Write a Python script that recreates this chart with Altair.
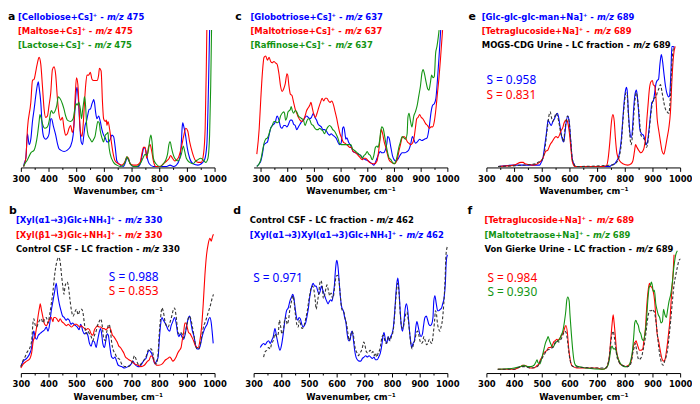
import altair as alt
import pandas as pd

BLUE = "#0000ff"
RED = "#ff0000"
GREEN = "#139413"
BLACK = "#000000"
DASH = "#333333"

# ---------------- spectra (wavenumber cm-1, relative intensity) ----------------
A_CELLOBIOSE = [(310,0),(312,2),(318,6),(324,24),(330,16),(336,20),(342,33),(348,42),(354,52),(360,60),(363,62),(366,58),(372,47),(378,27),(384,21),(390,20),(396,21),(402,24),(408,35),(411,35),(417,30),(426,23),(432,17),(438,13),(444,12),(456,11),(468,12),(480,15),(489,23),(495,40),(500,55),(503,58),(508,49),(513,30),(518,18),(523,16),(527,22),(532,30),(537,33),(542,38),(547,42),(551,42),(557,46),(561,48),(563,49),(566,47),(570,40),(575,35),(581,37),(587,33),(593,27),(599,23),(605,21),(611,18),(617,18),(623,20),(629,23),(635,22),(641,14),(647,4),(659,1),(671,0),(678,3),(683,6),(689,5),(695,2),(707,0),(725,0),(733,3),(739,9),(745,14),(751,12),(757,6),(764,2),(779,0),(815,0),(827,0),(839,1),(851,0),(862,1),(874,6),(880,18),(883,29),(885,32),(888,30),(895,23),(901,14),(910,6),(922,2),(940,1),(952,2),(964,5),(972,16),(978,59),(982,100)]
A_MALTOSE = [(310,0),(318,6),(324,28),(336,47),(342,63),(348,64),(356,72),(360,76),(366,80),(372,75),(378,59),(384,42),(390,36),(396,37),(402,45),(408,54),(414,71),(420,73),(426,67),(432,50),(438,38),(444,34),(450,36),(456,28),(462,23),(468,24),(474,28),(480,30),(486,25),(491,29),(497,54),(501,65),(506,60),(511,40),(515,26),(521,22),(525,30),(530,47),(534,59),(539,67),(545,67),(551,69),(557,64),(563,63),(569,63),(575,63),(581,67),(584,72),(590,70),(595,47),(599,35),(605,33),(609,34),(611,30),(615,33),(621,27),(627,18),(633,10),(641,4),(653,2),(665,1),(677,4),(683,7),(689,6),(695,2),(707,1),(719,1),(731,3),(737,9),(743,14),(749,14),(755,6),(761,14),(767,16),(773,11),(779,4),(788,0),(803,0),(815,2),(827,4),(836,6),(841,8),(848,6),(856,4),(868,6),(880,14),(888,22),(896,28),(903,26),(910,18),(920,10),(929,5),(940,3),(952,3),(960,9),(966,28),(970,71),(972,100)]
A_LACTOSE = [(310,0),(312,1),(324,5),(336,10),(348,12),(354,16),(360,23),(366,33),(369,38),(374,35),(380,30),(386,28),(396,29),(402,33),(408,40),(411,41),(416,39),(422,40),(430,45),(435,51),(441,50),(450,46),(456,42),(462,37),(468,34),(480,33),(489,35),(495,42),(500,46),(503,45),(509,47),(515,42),(519,35),(523,41),(527,47),(530,51),(533,47),(538,30),(543,23),(551,20),(557,18),(563,20),(568,22),(573,28),(578,33),(583,32),(587,26),(593,21),(599,18),(605,23),(611,24),(615,25),(617,18),(623,9),(635,3),(647,1),(659,0),(671,1),(678,4),(683,7),(689,5),(695,2),(707,0),(719,0),(731,2),(741,6),(749,9),(755,8),(761,12),(766,20),(770,23),(774,18),(779,6),(788,2),(803,0),(815,2),(824,5),(830,9),(835,16),(838,18),(840,18),(844,14),(850,9),(856,6),(868,4),(880,9),(887,15),(892,11),(898,6),(910,3),(922,2),(932,4),(940,5),(949,6),(958,5),(968,3),(976,6),(982,23),(986,59),(989,100)]

C_GLOBOTRIOSE = [(285,0),(294,2),(300,4),(306,9),(312,16),(318,17),(325,18),(331,23),(337,28),(343,30),(349,31),(355,33),(361,37),(368,34),(374,29),(380,28),(386,30),(392,30),(398,29),(404,31),(411,34),(417,34),(423,31),(429,30),(435,27),(441,29),(447,31),(454,33),(460,34),(466,36),(472,37),(478,36),(484,35),(490,36),(497,39),(503,36),(509,34),(515,31),(521,30),(527,29),(533,27),(539,27),(546,26),(552,24),(558,23),(564,24),(570,23),(576,22),(582,21),(589,18),(595,16),(601,17),(605,23),(607,28),(611,29),(616,24),(619,20),(623,21),(629,18),(638,15),(646,11),(656,10),(666,9),(675,8),(683,6),(693,5),(703,4),(711,3),(718,2),(724,1),(730,3),(736,6),(742,9),(748,11),(754,10),(760,10),(767,12),(773,17),(776,22),(781,21),(788,14),(794,8),(800,5),(806,4),(813,5),(822,8),(830,10),(840,10),(849,11),(855,12),(862,16),(869,22),(874,20),(880,17),(887,18),(896,20),(904,19),(914,20),(924,21),(932,29),(939,40),(945,45),(951,46),(957,50),(963,64),(969,81),(975,100)]
C_MALTOTRIOSE = [(285,9),(294,28),(300,50),(306,69),(312,80),(318,81),(325,78),(331,80),(337,77),(343,76),(349,77),(355,76),(361,75),(368,68),(374,59),(380,55),(386,57),(392,61),(398,68),(401,67),(405,60),(411,53),(417,52),(423,47),(429,42),(435,39),(441,36),(447,34),(454,33),(460,34),(466,37),(472,41),(478,43),(484,45),(488,47),(493,43),(499,38),(505,36),(511,39),(517,43),(524,47),(530,50),(536,48),(542,50),(548,50),(554,48),(560,47),(566,48),(573,45),(579,40),(585,35),(591,29),(597,24),(603,21),(609,18),(616,17),(622,16),(628,15),(634,14),(640,14),(646,11),(656,10),(666,8),(675,6),(681,5),(687,6),(693,6),(699,5),(708,3),(718,2),(727,2),(736,4),(742,11),(748,21),(752,27),(757,24),(763,18),(769,14),(775,9),(781,5),(791,3),(800,2),(807,3),(813,6),(818,11),(824,16),(830,21),(837,22),(843,21),(850,18),(856,17),(862,16),(869,17),(875,21),(880,28),(885,35),(890,36),(896,38),(902,36),(908,35),(914,33),(920,31),(926,30),(932,28),(939,29),(945,29),(951,33),(957,42),(963,54),(969,66),(975,81),(982,100)]
C_RAFFINOSE = [(285,0),(294,2),(300,5),(306,11),(312,17),(318,20),(325,21),(331,24),(337,28),(343,30),(349,33),(355,33),(361,32),(368,33),(374,37),(380,39),(386,40),(389,39),(393,34),(398,36),(402,40),(407,41),(411,42),(414,44),(418,41),(423,39),(429,41),(435,40),(441,37),(447,36),(454,35),(460,34),(466,30),(472,33),(478,35),(484,34),(490,31),(497,30),(503,28),(509,27),(515,27),(521,28),(527,27),(533,26),(539,24),(546,27),(552,29),(558,30),(564,29),(570,27),(576,26),(582,24),(589,21),(595,17),(601,16),(607,16),(613,16),(619,16),(626,16),(632,16),(638,16),(644,13),(650,12),(656,11),(662,10),(668,9),(675,8),(681,6),(687,8),(693,9),(699,11),(705,9),(711,8),(718,5),(724,8),(730,14),(736,15),(740,14),(745,18),(750,26),(754,29),(759,28),(764,23),(770,16),(776,10),(782,6),(788,5),(794,3),(801,2),(807,4),(813,9),(818,14),(824,18),(830,22),(837,21),(843,20),(849,24),(852,36),(856,39),(861,34),(867,29),(874,37),(880,40),(887,45),(893,52),(899,59),(905,69),(909,71),(914,68),(920,62),(926,57),(931,56),(936,61),(941,67),(946,65),(951,66),(956,83),(961,88),(966,95),(969,100)]

E_GLCMAN = [(342,0),(400,1),(450,1),(492,1),(498,3),(504,6),(510,14),(516,23),(522,33),(523,34),(528,32),(534,30),(540,33),(546,35),(552,38),(557,39),(561,36),(567,28),(573,21),(579,18),(583,23),(588,32),(594,37),(599,33),(605,18),(610,6),(616,2),(622,0),(700,0),(746,0),(752,1),(764,2),(770,4),(776,6),(782,11),(788,21),(793,35),(799,50),(804,57),(806,58),(809,55),(813,40),(818,26),(823,21),(828,28),(832,42),(837,53),(842,56),(845,52),(850,40),(854,28),(860,24),(867,23),(874,19),(878,16),(882,18),(888,28),(894,40),(898,47),(903,48),(908,54),(913,61),(917,63),(922,64),(927,75),(932,82),(936,78),(941,69),(947,59),(953,53),(959,51),(962,52),(967,71),(970,88),(976,88),(979,86)]
E_TETRAGLUCOSIDE = [(342,0),(400,1),(425,3),(433,3),(439,2),(469,1),(492,3),(504,6),(514,11),(522,12),(530,16),(537,18),(546,21),(552,22),(558,21),(564,23),(569,26),(575,28),(581,32),(587,34),(590,34),(593,33),(599,26),(605,14),(610,4),(620,0),(723,0),(735,1),(740,6),(746,18),(752,33),(757,38),(762,33),(766,21),(772,9),(782,4),(793,2),(811,1),(823,2),(829,4),(835,11),(839,16),(844,14),(853,11),(858,10),(864,11),(870,14),(876,23),(880,35),(884,45),(889,57),(894,62),(900,63),(903,60),(908,59),(912,52),(917,35),(923,26),(929,18),(935,11),(941,9),(947,14),(953,21),(959,28),(965,40),(970,62),(976,81),(982,88)]
E_MOGS_URINE = [(342,0),(480,2),(486,3),(498,4),(510,11),(519,26),(528,39),(531,40),(534,37),(540,33),(546,36),(552,39),(558,36),(564,30),(569,24),(575,21),(579,18),(583,26),(588,33),(593,37),(599,33),(605,18),(610,6),(616,2),(622,0),(752,1),(770,3),(782,9),(788,18),(793,33),(799,47),(804,54),(809,52),(813,38),(819,21),(823,16),(829,26),(834,42),(839,52),(842,54),(847,48),(853,35),(858,23),(867,21),(874,18),(878,14),(882,16),(888,26),(894,38),(900,47),(906,50),(913,51),(917,54),(923,57),(929,60),(935,54),(941,47),(947,42),(953,40),(959,39),(965,52),(969,71),(974,85),(979,88)]

B_XYL_A13 = [(300,4),(309,8),(321,10),(333,14),(339,18),(345,29),(347,30),(351,26),(357,24),(363,27),(368,28),(374,29),(380,30),(386,31),(392,33),(398,30),(404,35),(410,45),(416,52),(422,59),(428,65),(433,57),(439,50),(445,45),(451,41),(457,40),(463,38),(469,39),(475,38),(481,35),(487,36),(492,35),(498,34),(504,33),(510,31),(516,35),(519,34),(524,30),(530,28),(536,29),(542,27),(548,21),(554,19),(560,23),(566,22),(572,18),(577,23),(583,29),(588,32),(592,28),(596,21),(602,18),(607,23),(612,28),(616,27),(622,18),(628,11),(634,10),(640,11),(646,8),(652,5),(664,4),(675,3),(687,4),(699,6),(705,8),(711,6),(723,4),(729,4),(734,5),(746,9),(752,10),(758,14),(764,16),(768,15),(772,14),(778,10),(784,6),(790,8),(796,11),(800,23),(805,35),(810,40),(815,38),(821,36),(826,34),(832,31),(838,30),(843,34),(849,37),(855,40),(861,36),(867,28),(871,26),(876,28),(882,26),(888,24),(894,28),(900,35),(906,40),(910,41),(914,37),(920,30),(926,26),(931,20),(937,17),(943,17),(949,20),(955,26),(961,30),(967,33),(973,35),(979,39),(983,40),(988,36),(992,28),(995,21)]
B_XYL_B13 = [(300,3),(309,6),(321,8),(333,10),(339,14),(345,23),(351,26),(357,33),(363,42),(368,48),(370,50),(374,46),(380,40),(386,35),(392,34),(398,36),(404,39),(410,40),(416,37),(419,40),(424,40),(430,39),(436,37),(442,39),(448,37),(454,36),(459,35),(465,34),(471,35),(477,34),(483,33),(489,34),(495,35),(501,35),(507,34),(513,33),(518,34),(524,33),(530,32),(536,31),(542,32),(548,31),(554,28),(560,27),(566,31),(572,33),(577,34),(583,33),(589,33),(595,32),(601,32),(607,31),(613,32),(619,33),(625,31),(631,27),(636,26),(642,24),(648,22),(654,19),(660,18),(666,16),(672,14),(678,11),(684,10),(690,9),(699,8),(711,6),(723,5),(734,4),(746,5),(758,8),(764,9),(770,12),(776,11),(781,8),(791,5),(799,5),(811,6),(823,9),(831,10),(838,11),(843,10),(849,8),(855,9),(861,11),(867,14),(873,16),(879,18),(883,23),(888,29),(893,36),(896,36),(901,33),(906,29),(912,28),(917,26),(924,23),(929,20),(935,18),(941,18),(947,23),(953,33),(959,50),(965,71),(971,86),(977,94),(983,98),(988,96),(992,99),(996,101)]
B_CONTROL_CSF = [(300,4),(309,9),(315,11),(321,14),(327,16),(333,18),(339,23),(345,38),(347,39),(351,35),(357,33),(363,36),(368,38),(374,39),(380,36),(386,39),(392,40),(398,36),(404,42),(410,50),(416,59),(422,71),(427,78),(433,83),(437,84),(442,81),(447,71),(451,64),(456,57),(459,62),(463,65),(467,66),(471,64),(477,54),(483,45),(489,41),(495,44),(501,46),(507,42),(513,45),(518,46),(520,46),(524,44),(530,35),(536,28),(542,30),(548,28),(554,26),(560,23),(566,27),(572,30),(577,34),(583,37),(589,39),(594,34),(599,25),(605,23),(609,28),(614,33),(619,35),(624,30),(628,22),(634,16),(640,14),(646,11),(652,10),(658,9),(664,6),(669,5),(675,4),(687,4),(699,6),(705,9),(711,12),(717,9),(723,6),(729,5),(734,6),(746,9),(752,11),(758,15),(764,17),(770,17),(776,15),(781,9),(790,6),(796,14),(800,28),(805,40),(810,47),(815,44),(821,37),(826,34),(832,33),(838,36),(844,40),(850,45),(855,47),(861,41),(867,30),(871,28),(876,29),(882,28),(888,25),(894,29),(900,35),(906,40),(909,41),(914,39),(920,33),(926,26),(931,20),(937,17),(943,17),(949,21),(955,28),(961,34),(967,37),(973,41),(979,45),(985,49),(991,54),(996,57)]

D_CONTROL_CSF = [(336,11),(342,15),(348,16),(354,18),(360,17),(365,21),(371,23),(377,28),(383,26),(389,28),(393,38),(398,33),(402,28),(407,30),(412,38),(417,40),(421,35),(426,38),(431,46),(437,52),(442,56),(446,52),(451,42),(456,35),(461,33),(465,38),(470,35),(475,32),(480,33),(485,36),(489,40),(494,45),(499,52),(504,58),(508,62),(513,63),(518,60),(523,52),(526,46),(531,52),(536,59),(539,65),(543,67),(548,63),(552,54),(557,57),(562,62),(565,64),(570,60),(575,56),(580,58),(585,54),(588,55),(593,63),(598,70),(602,71),(607,69),(612,59),(617,48),(621,45),(626,44),(631,39),(636,35),(641,28),(645,23),(650,26),(655,30),(660,28),(664,21),(669,16),(674,14),(679,12),(683,14),(688,15),(693,18),(698,22),(702,20),(707,15),(712,14),(717,15),(721,16),(726,14),(731,15),(736,12),(740,14),(745,11),(750,14),(755,16),(760,21),(764,26),(769,27),(774,23),(779,21),(783,23),(788,26),(793,23),(798,26),(802,28),(807,35),(812,49),(817,61),(820,65),(825,59),(830,42),(835,33),(840,32),(844,36),(849,42),(854,44),(859,38),(864,28),(868,21),(873,17),(877,20),(882,23),(887,28),(892,30),(896,28),(901,23),(906,21),(911,22),(915,26),(920,23),(925,20),(929,21),(935,24),(939,22),(944,21),(949,28),(954,38),(957,45),(961,42),(964,36),(968,32),(973,30),(977,33),(982,38),(987,50),(992,69),(995,86),(1000,92)]
D_XYLXYL = [(324,18),(330,20),(336,21),(342,20),(348,22),(354,23),(360,21),(365,23),(371,26),(377,32),(383,26),(389,20),(395,16),(401,20),(407,28),(413,38),(419,45),(425,47),(431,52),(437,55),(441,57),(445,55),(450,47),(455,40),(460,38),(464,40),(469,39),(474,35),(479,33),(483,34),(488,36),(493,41),(498,47),(502,54),(507,60),(512,64),(515,65),(521,63),(526,63),(531,60),(536,57),(540,59),(545,63),(550,60),(555,57),(560,54),(564,52),(569,50),(574,52),(579,53),(583,52),(588,57),(592,64),(595,73),(599,81),(601,82),(605,77),(610,64),(614,54),(619,47),(624,45),(629,40),(633,37),(638,28),(643,23),(648,23),(652,28),(656,30),(661,23),(665,16),(670,11),(675,9),(681,8),(687,8),(693,10),(699,11),(705,12),(711,11),(717,12),(723,11),(729,10),(735,11),(740,9),(746,9),(752,11),(758,14),(764,21),(767,26),(771,29),(776,24),(781,21),(786,26),(790,23),(795,26),(800,28),(805,33),(810,45),(814,57),(818,66),(821,69),(824,64),(829,47),(833,35),(838,30),(843,37),(848,47),(852,50),(857,45),(862,33),(867,23),(871,18),(876,21),(881,23),(886,33),(890,37),(895,33),(900,28),(905,26),(910,28),(914,34),(919,40),(924,41),(929,38),(933,35),(938,34),(943,35),(948,40),(951,52),(955,56),(960,50),(965,45),(969,45),(974,46),(979,47),(983,50),(988,54),(993,66),(996,81),(1000,86)]

F_TETRAGLUCOSIDE = [(341,2),(400,2),(413,3),(424,4),(430,5),(436,5),(448,4),(460,3),(472,3),(484,5),(490,6),(495,9),(501,11),(507,14),(513,15),(519,16),(525,18),(531,18),(537,19),(543,22),(549,23),(555,24),(559,23),(562,24),(566,25),(572,27),(578,29),(584,33),(586,34),(588,34),(593,28),(597,18),(602,10),(608,5),(614,4),(626,3),(700,3),(720,2),(732,3),(738,5),(744,11),(749,23),(754,35),(758,42),(761,37),(766,26),(770,16),(776,10),(783,6),(791,5),(803,4),(813,5),(819,6),(825,10),(829,16),(834,21),(838,22),(841,23),(844,21),(849,18),(853,16),(859,16),(865,17),(869,23),(875,33),(879,47),(884,59),(889,65),(893,63),(898,62),(903,59),(908,52),(913,38),(917,28),(922,23),(928,16),(934,10),(940,8),(945,9),(951,16),(957,26),(963,38),(969,57),(975,74),(978,86)]
F_MALTOTETRAOSE = [(341,2),(401,3),(424,4),(436,5),(448,4),(460,4),(472,5),(478,7),(483,9),(486,7),(493,6),(501,11),(507,16),(513,21),(519,24),(523,26),(528,23),(534,20),(540,18),(546,20),(552,22),(559,23),(564,24),(570,27),(576,30),(582,37),(587,45),(590,52),(594,55),(599,52),(602,42),(607,28),(612,16),(616,9),(622,5),(632,4),(661,3),(720,2),(732,3),(739,5),(744,9),(749,16),(754,19),(759,17),(764,17),(768,16),(774,11),(780,8),(789,5),(798,4),(810,4),(816,5),(822,9),(828,16),(833,28),(836,36),(840,38),(844,36),(849,34),(853,30),(858,28),(863,24),(868,23),(873,28),(878,37),(883,52),(888,62),(893,64),(896,66),(900,63),(903,59),(907,60),(912,50),(916,46),(921,42),(926,40),(931,36),(936,37),(940,46),(945,42),(950,40),(955,46),(960,52),(966,57),(972,66),(978,78),(984,86),(990,89)]
F_VONGIERKE = [(341,2),(400,2),(424,4),(436,4),(460,3),(484,4),(495,8),(507,12),(519,16),(531,17),(543,19),(549,22),(555,23),(561,22),(566,23),(572,25),(578,28),(583,30),(588,29),(593,23),(597,16),(602,9),(608,5),(614,4),(700,3),(732,3),(739,6),(744,11),(749,21),(754,28),(758,30),(762,26),(767,18),(772,11),(780,7),(791,5),(810,4),(819,5),(825,9),(829,14),(834,18),(838,21),(842,17),(847,11),(852,9),(857,10),(862,12),(866,16),(871,21),(876,28),(880,35),(885,42),(890,45),(896,45),(899,46),(903,45),(907,44),(910,41),(915,33),(920,23),(924,16),(929,10),(934,6),(939,5),(944,8),(949,11),(955,17),(960,26),(966,38),(972,52),(978,64),(984,71),(990,77),(996,82),(1001,83)]

# ---------------- texts ----------------
TICK_VALUES = list(range(300, 1001, 50))
AXIS_TITLE = "Wavenumber, cm\u207b\u00b9"
MZ = "m/z"

LEG_A = [("[Cellobiose+Cs]\u207a - ", "475", BLUE), ("[Maltose+Cs]\u207a - ", "475", RED), ("[Lactose+Cs]\u207a - ", "475", GREEN)]
LEG_C = [("[Globotriose+Cs]\u207a - ", "637", BLUE), ("[Maltotriose+Cs]\u207a - ", "637", RED), ("[Raffinose+Cs]\u207a - ", "637", GREEN)]
LEG_E = [("[Glc-glc-glc-man+Na]\u207a - ", "689", BLUE), ("[Tetraglucoside+Na]\u207a - ", "689", RED), ("MOGS-CDG Urine - LC fraction - ", "689", BLACK)]
LEG_B = [("[Xyl(\u03b11\u21923)Glc+NH\u2084]\u207a - ", "330", BLUE), ("[Xyl(\u03b21\u21923)Glc+NH\u2084]\u207a - ", "330", RED), ("Control CSF - LC fraction - ", "330", BLACK)]
LEG_D = [("Control CSF - LC fraction - ", "462", BLACK), ("[Xyl(\u03b11\u21923)Xyl(\u03b11\u21923)Glc+NH\u2084]\u207a - ", "462", BLUE)]
LEG_F = [("[Tetraglucoside+Na]\u207a - ", "689", RED), ("[Maltotetraose+Na]\u207a - ", "689", GREEN), ("Von Gierke Urine - LC fraction - ", "689", BLACK)]

S_E = [("S = 0.958", BLUE), ("S = 0.831", RED)]
S_B = [("S = 0.988", BLUE), ("S = 0.853", RED)]
S_D = [("S = 0.971", BLUE)]
S_F = [("S = 0.984", RED), ("S = 0.930", GREEN)]

# ---------------- layout / typography ----------------
W, H = 196, 150
YDOM = [-0.72, 108]
COND = "DejaVu Sans Condensed"
LEG_FS = 9.5

STYLES = {
    "bold": dict(font=COND, fontSize=LEG_FS, fontWeight="bold", baseline="middle"),
    "ital": dict(font=COND, fontSize=LEG_FS, fontWeight="bold", fontStyle="italic", baseline="middle"),
    "s": dict(font="Noto Sans", fontSize=12, fontWeight="normal", baseline="middle"),
    "tag": dict(font="DejaVu Sans", fontSize=11, fontWeight="bold", baseline="top"),
}

# approximate advance widths (1/1000 em) of DejaVu Sans Bold; condensed face ~0.9x
_ADV = {" ": 348, "(": 456, ")": 456, "+": 838, ",": 381, "-": 415, ".": 381, "/": 365, "=": 838,
        "[": 456, "]": 456, "A": 774, "B": 762, "C": 734, "D": 830, "E": 683, "F": 683, "G": 821,
        "H": 837, "I": 372, "L": 637, "M": 995, "N": 837, "O": 850, "R": 770, "S": 720, "T": 682,
        "U": 812, "V": 774, "X": 770, "a": 675, "b": 716, "c": 593, "d": 716, "e": 678, "f": 435,
        "g": 716, "h": 712, "i": 343, "k": 665, "l": 343, "m": 1042, "n": 712, "o": 687, "p": 716,
        "r": 493, "s": 595, "t": 478, "u": 712, "v": 652, "y": 652, "z": 582,
        "\u03b1": 723, "\u03b2": 730, "\u2192": 838, "\u2084": 440, "\u207a": 540}


def text_width(s, fs):
    return sum(_ADV.get(ch, 696) for ch in s) * 0.9 * fs / 1000.0


def x_axis():
    return alt.Axis(
        values=TICK_VALUES, format="d",
        labelExpr="datum.value % 100 === 0 ? datum.label : ''",
        tickSize={"condition": {"test": "datum.value % 100 === 0", "value": 4}, "value": 2},
        tickColor="black", tickWidth=1, domainColor="black", domainWidth=1,
        labelFont=COND, labelFontSize=9.5, labelFontWeight="bold", labelColor="black",
        labelPadding=2, labelFlush=False, labelOverlap=False,
        title=AXIS_TITLE, titleFont=COND, titleFontSize=9.5, titleFontWeight="bold",
        titleColor="black", titlePadding=3, grid=False,
    )


def text_rows(tag, tag_xy, legend, start_x, line_y, svals, s_xy):
    rows = [dict(px=tag_xy[0], py=tag_xy[1], txt=tag, col=BLACK, st="tag")]
    for i, (prefix, num, col) in enumerate(legend):
        y = line_y[i]
        x_mz = start_x + text_width(prefix, LEG_FS)
        x_num = x_mz + text_width(MZ + " ", LEG_FS)
        rows.append(dict(px=start_x, py=y, txt=prefix, col=col, st="bold"))
        rows.append(dict(px=x_mz, py=y, txt=MZ, col=col, st="ital"))
        rows.append(dict(px=x_num, py=y, txt=num, col=col, st="bold"))
    for i, (txt, col) in enumerate(svals):
        rows.append(dict(px=s_xy[0], py=s_xy[1] + 15 * i, txt=txt, col=col, st="s"))
    return pd.DataFrame(rows)


def panel(series, xdom, tdf):
    layers = []
    for pairs, color, dashed in series:
        df = pd.DataFrame(pairs, columns=["wn", "val"])
        kw = dict(color=color, strokeWidth=1.1, interpolate="monotone")
        if dashed:
            kw["strokeDash"] = [3, 2]
        layers.append(
            alt.Chart(df).mark_line(**kw).encode(
                x=alt.X("wn:Q", scale=alt.Scale(domain=xdom, nice=False, zero=False), axis=x_axis()),
                y=alt.Y("val:Q", scale=alt.Scale(domain=YDOM, nice=False, zero=False), axis=None),
            )
        )
    for st, props in STYLES.items():
        sub = tdf[tdf["st"] == st]
        if len(sub) == 0:
            continue
        layers.append(
            alt.Chart(sub).mark_text(align="left", **props).encode(
                x=alt.X("px:Q", scale=None),
                y=alt.Y("py:Q", scale=None),
                text="txt:N",
                color=alt.Color("col:N", scale=None),
            )
        )
    return alt.layer(*layers).properties(width=W, height=H)


R1 = [-2.5, 11.5, 26.5]
R2 = [-4.5, 10.5, 24.5]

pa = panel([(A_CELLOBIOSE, BLUE, False), (A_MALTOSE, RED, False), (A_LACTOSE, GREEN, False)], [300, 1000],
           text_rows("a", (-13, -8.5), LEG_A, -3, R1, [], (0, 0)))
pc = panel([(C_GLOBOTRIOSE, BLUE, False), (C_MALTOTRIOSE, RED, False), (C_RAFFINOSE, GREEN, False)], [273, 1000],
           text_rows("c", (-18.5, -8.5), LEG_C, -3.2, R1, [], (0, 0)))
pe = panel([(E_GLCMAN, BLUE, False), (E_TETRAGLUCOSIDE, RED, False), (E_MOGS_URINE, DASH, True)], [300, 1000],
           text_rows("e", (-18, -8.5), LEG_E, -4.7, R1, S_E, (0, 61.5)))
pb = panel([(B_XYL_A13, BLUE, False), (B_XYL_B13, RED, False), (B_CONTROL_CSF, DASH, True)], [300, 1000],
           text_rows("b", (-12, -19.5), LEG_B, -5, R2, S_B, (89, 52.5)))
pd_ = panel([(D_XYLXYL, BLUE, False), (D_CONTROL_CSF, DASH, True)], [300, 1000],
            text_rows("d", (-20.5, -20), LEG_D, -3.8, R2, S_D, (-0.5, 53.5)))
pf = panel([(F_TETRAGLUCOSIDE, RED, False), (F_MALTOTETRAOSE, GREEN, False), (F_VONGIERKE, DASH, True)], [300, 1000],
           text_rows("f", (-19, -20), LEG_F, -2, R2, S_F, (1, 53.5)))

chart = alt.concat(
    pa, pc, pe, pb, pd_, pf, columns=3, spacing={"row": 58, "column": 39.5}, bounds="flush"
).properties(
    padding={"left": 0, "top": 0, "right": 0, "bottom": 0}
).configure_view(stroke=None)

chart.save("out.html", embed_options={"renderer": "svg", "actions": False})
